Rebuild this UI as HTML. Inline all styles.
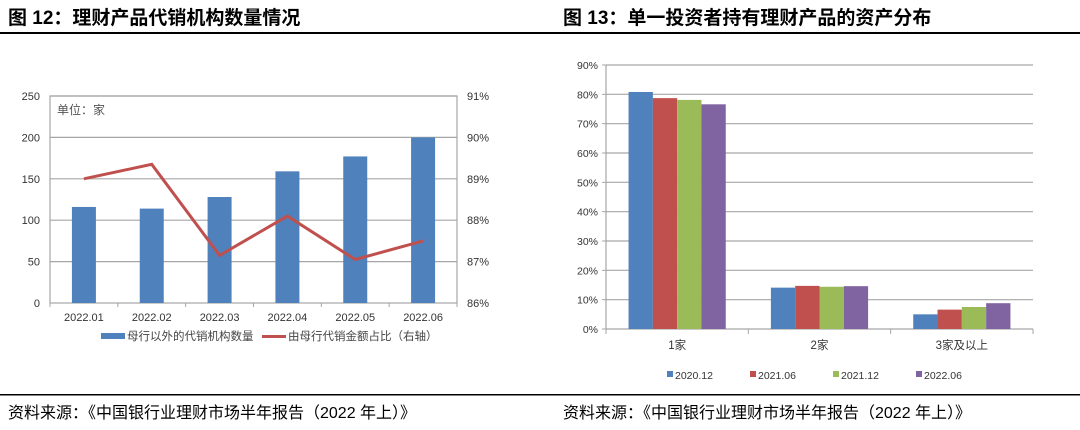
<!DOCTYPE html>
<html><head><meta charset="utf-8"><style>
body{margin:0;width:1080px;height:430px;background:#fff;overflow:hidden;font-family:"Liberation Sans","Noto Sans CJK SC",sans-serif;}
svg{position:absolute;left:0;top:0}
</style></head><body>
<svg width="1080" height="430" id="s">
<text x="8" y="24" font-size="19" font-weight="bold">图 12：理财产品代销机构数量情况</text>
<text x="563" y="24" font-size="19" font-weight="bold">图 13：单一投资者持有理财产品的资产分布</text>
<rect x="0" y="32" width="1080" height="2" fill="#000"/>
<rect x="0" y="394" width="1080" height="1.5" fill="#000"/>
<text x="8" y="418" font-size="16">资料来源：《中国银行业理财市场半年报告（2022 年上）》</text>
<text x="563" y="418" font-size="16">资料来源：《中国银行业理财市场半年报告（2022 年上）》</text>
<g id="c1"></g><g id="c2"></g>
</svg>
<script>
const months=["2022.01","2022.02","2022.03","2022.04","2022.05","2022.06"];
const agencyCount=[116,114,128,159,177,200];
const shareRatio=[89.0,89.35,87.15,88.1,87.05,87.5];
const leftTicks=[0,50,100,150,200,250];
const rightTicks=[86,87,88,89,90,91];
const groups=["1家","2家","3家及以上"];
const s2020_12=[80.8,14.1,5.0];
const s2021_06=[78.7,14.7,6.6];
const s2021_12=[78.1,14.4,7.5];
const s2022_06=[76.6,14.6,8.8];
const pctTicks=[0,10,20,30,40,50,60,70,80,90];
const NS="http://www.w3.org/2000/svg";
function mk(p,t,a,txt){const e=document.createElementNS(NS,t);for(const k in a)e.setAttribute(k,a[k]);if(txt!==undefined)e.textContent=txt;p.appendChild(e);return e;}
// chart 1
const c1=document.getElementById('c1');
const L=50,R=457,T=96,B=303;
const y1=v=>B-(v/250)*(B-T), y2=v=>B-((v-86)/5)*(B-T);
const cw=(R-L)/months.length, xc=i=>L+cw*(i+0.5);
leftTicks.forEach(t=>{if(t>0){const g=mk(c1,'line',{x1:L,x2:R,y1:y1(t),y2:y1(t),stroke:'#a6a6a6','stroke-width':1.2});}
 const e=mk(c1,'text',{x:L-10,y:y1(t)+4,'text-anchor':'end','font-size':11,fill:'#333'},t);});
rightTicks.forEach(t=>{const e=mk(c1,'text',{x:R+10,y:y2(t)+4,'font-size':11,fill:'#333'},t+'%');});
mk(c1,'rect',{x:L,y:T,width:R-L,height:B-T,fill:'none',stroke:'#a6a6a6','stroke-width':1.2});
agencyCount.forEach((v,i)=>{const e=mk(c1,'rect',{x:xc(i)-12,y:y1(v),width:24,height:B-y1(v),fill:'#4f81bd'});
 const t=mk(c1,'text',{x:xc(i),y:321,'text-anchor':'middle','font-size':11,fill:'#333'},months[i]);
 mk(c1,'line',{x1:L+cw*i,x2:L+cw*i,y1:B,y2:B+4,stroke:'#a6a6a6'});});
mk(c1,'line',{x1:R,x2:R,y1:B,y2:B+4,stroke:'#a6a6a6'});
const ln=mk(c1,'polyline',{points:shareRatio.map((v,i)=>xc(i)+','+y2(v)).join(' '),fill:'none',stroke:'#c0504d','stroke-width':3});

let u=mk(c1,'text',{x:57,y:114,'font-size':12,fill:'#555'},'单位：家');
mk(c1,'rect',{x:101,y:333,width:24,height:6,fill:'#4f81bd'});
u=mk(c1,'text',{x:127,y:340,'font-size':11.5,fill:'#444'},'母行以外的代销机构数量');
mk(c1,'rect',{x:262,y:335,width:24,height:3,fill:'#c0504d'});
u=mk(c1,'text',{x:288,y:340,'font-size':11.5,fill:'#444'},'由母行代销金额占比（右轴）');
// chart 2
const c2=document.getElementById('c2');
const L2=606,R2=1033,T2=65,B2=329;
const yp=v=>B2-(v/90)*(B2-T2);
const gw=(R2-L2)/groups.length,bw=24.3;
pctTicks.forEach(t=>{const g=mk(c2,'line',{x1:L2,x2:R2,y1:yp(t),y2:yp(t),stroke:'#a6a6a6','stroke-width':1.2});
 mk(c2,'line',{x1:L2-4,x2:L2,y1:yp(t),y2:yp(t),stroke:'#a6a6a6'});
 const e=mk(c2,'text',{x:L2-8,y:yp(t)+4,'text-anchor':'end','font-size':10.5,fill:'#333'},t+'%');});
mk(c2,'line',{x1:L2,x2:L2,y1:T2,y2:B2,stroke:'#a6a6a6','stroke-width':1.2});
const series=[s2020_12,s2021_06,s2021_12,s2022_06],names=["2020.12","2021.06","2021.12","2022.06"],cols=['#4f81bd','#c0504d','#9bbb59','#8064a2'];
groups.forEach((g,i)=>{const cx=L2+gw*(i+0.5);
 series.forEach((s,j)=>{const e=mk(c2,'rect',{x:cx-2*bw+j*bw,y:yp(s[i]),width:bw,height:B2-yp(s[i]),fill:cols[j]});});
 const t=mk(c2,'text',{x:cx,y:349,'text-anchor':'middle','font-size':11.5,fill:'#333'},g);
 mk(c2,'line',{x1:L2+gw*i,x2:L2+gw*i,y1:B2,y2:B2+5,stroke:'#a6a6a6'});});
mk(c2,'line',{x1:R2,x2:R2,y1:B2,y2:B2+5,stroke:'#a6a6a6'});
names.forEach((n,j)=>{const x=667+j*83;mk(c2,'rect',{x:x,y:371,width:6,height:6,fill:cols[j]});
 const e=mk(c2,'text',{x:x+8,y:379,'font-size':10.5,fill:'#333'},n);});
</script>
</body></html>
